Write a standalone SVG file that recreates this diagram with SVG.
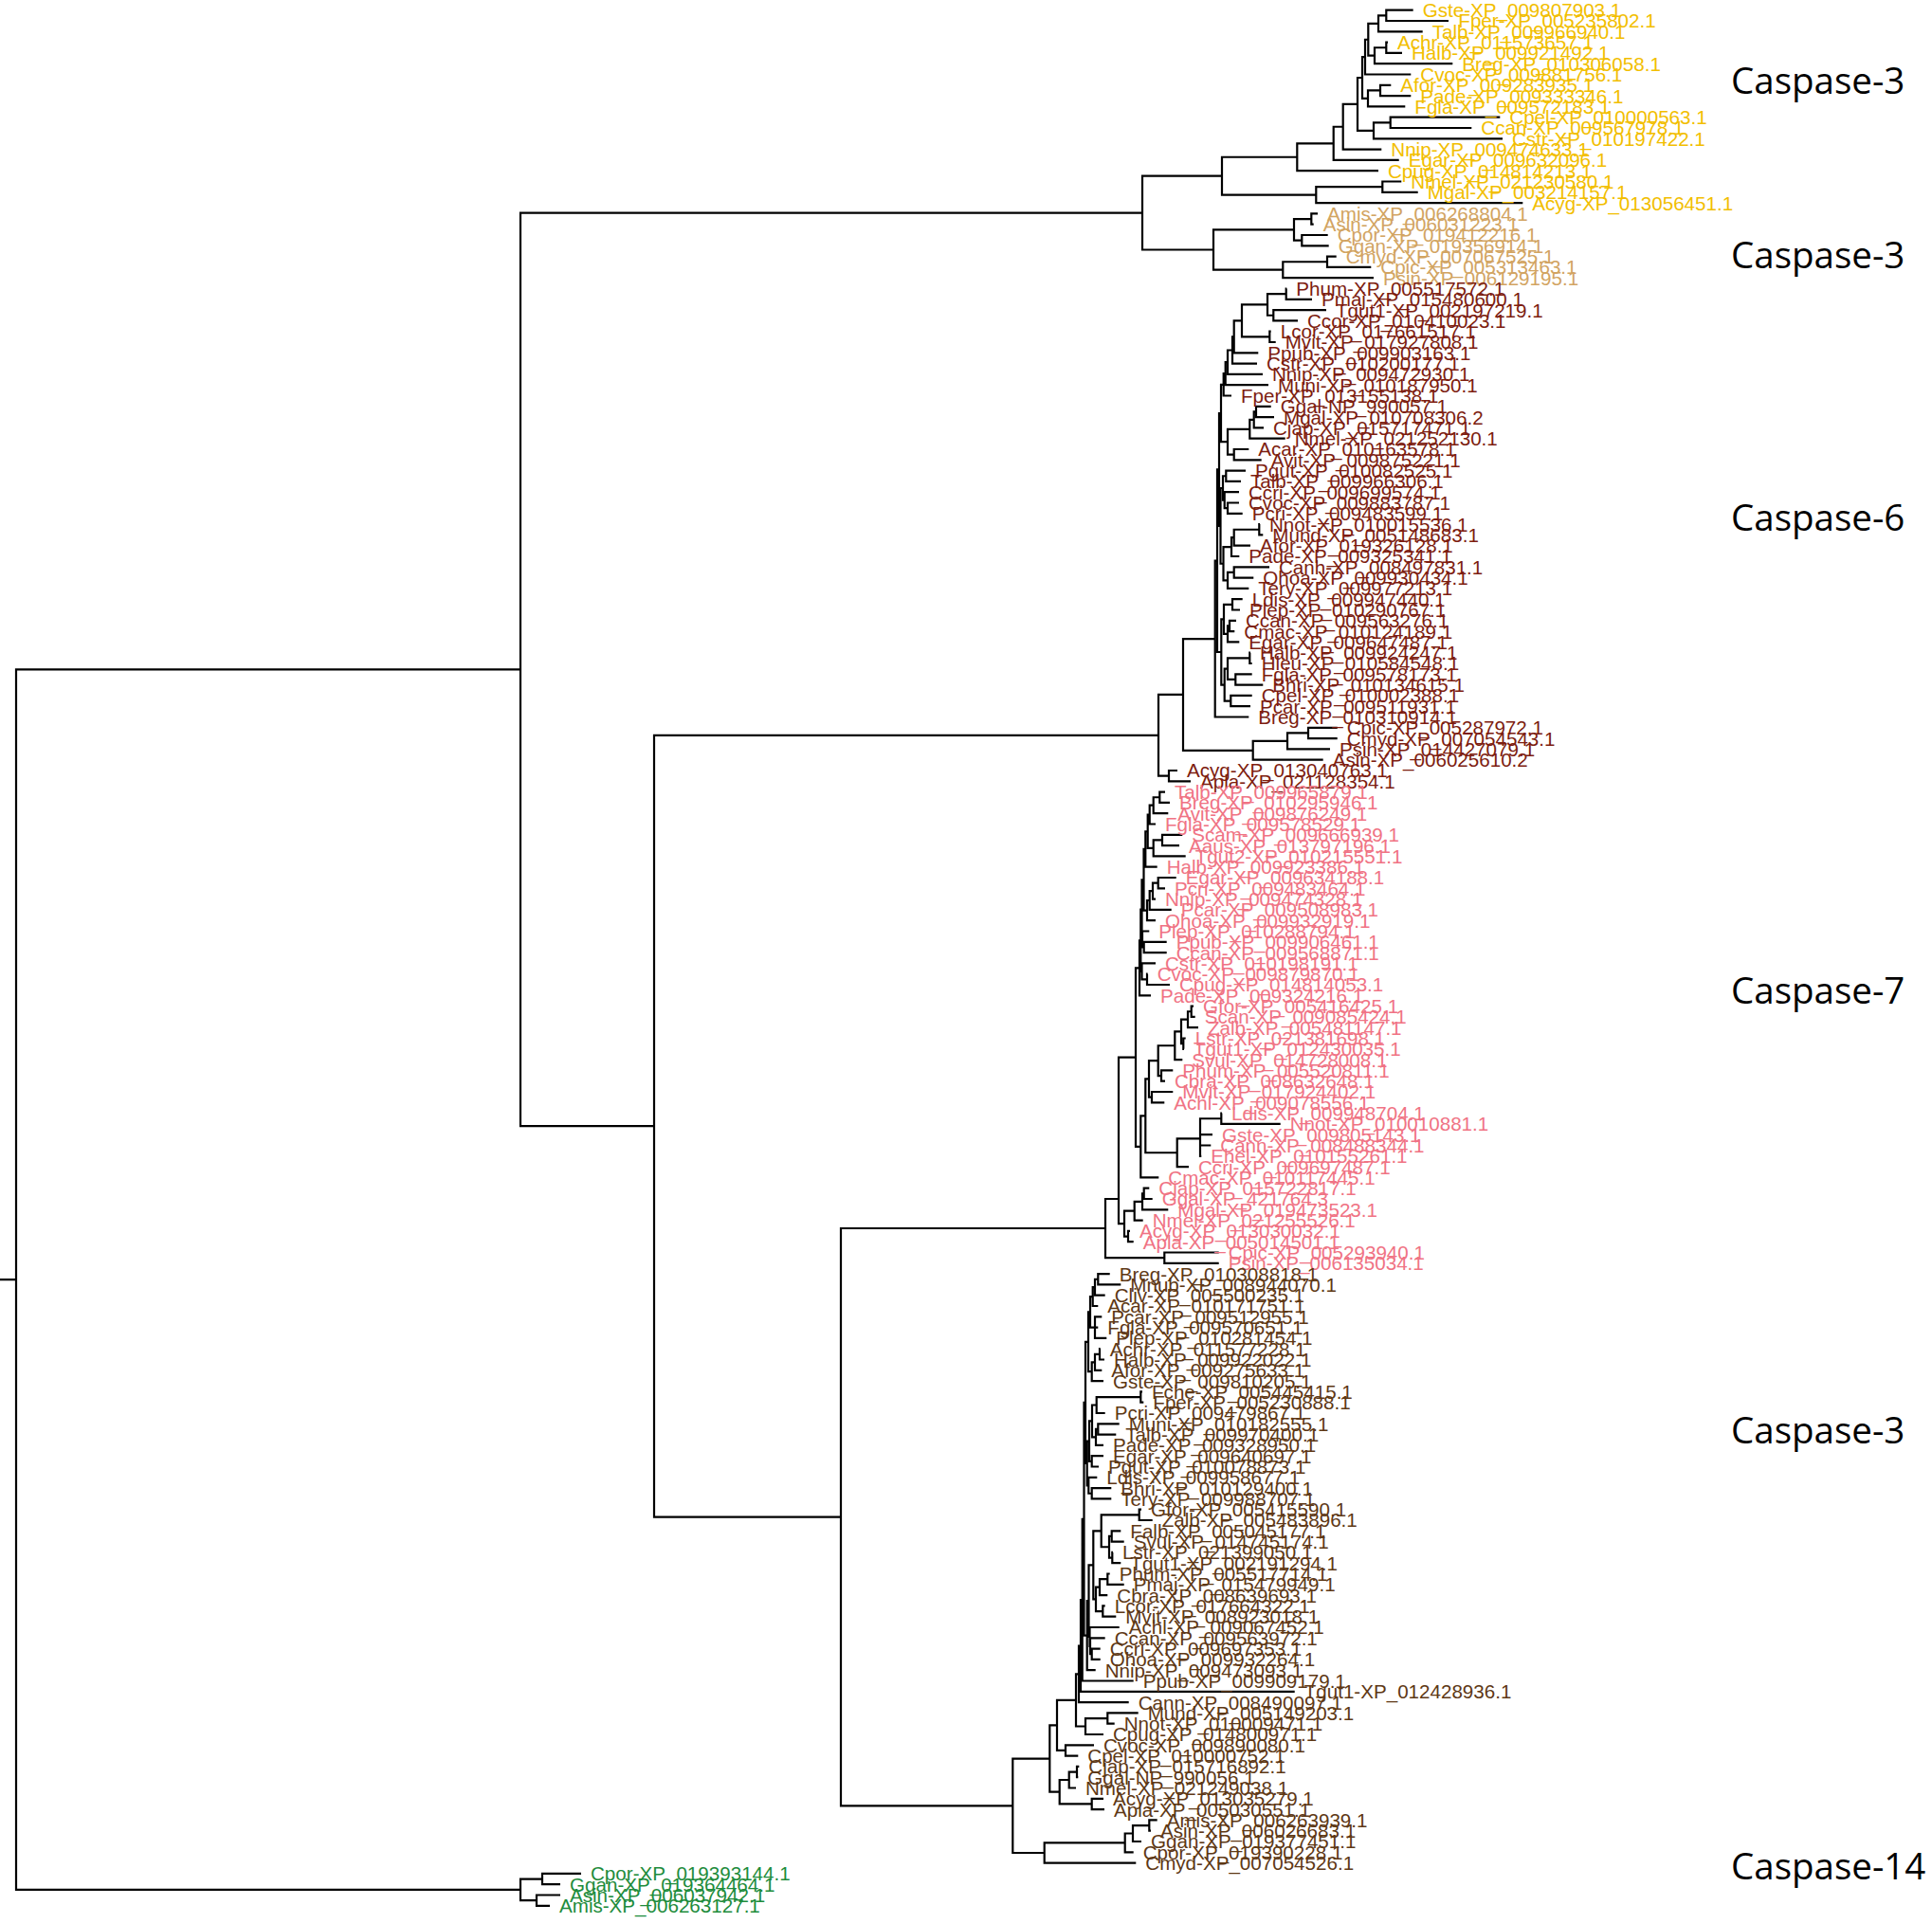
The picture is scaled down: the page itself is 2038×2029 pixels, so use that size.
<svg xmlns="http://www.w3.org/2000/svg" width="2038" height="2029" viewBox="0 0 2038 2029">
<style>
.e{fill:none;stroke:#000;stroke-width:2.2}
text{font-family:"Liberation Sans",Arial,sans-serif;font-size:20.6px}
.y{fill:#F2BE00}.t{fill:#D2A462}.r{fill:#7D1D10}.p{fill:#F07384}.b{fill:#5E3815}.g{fill:#1E8C3C}
.cl{font-family:"Open Sans","Noto Sans",sans-serif;font-size:38.5px;fill:#000}
</style>
<rect width="2038" height="2029" fill="#fff"/>
<g id="edges" class="e">
<path d="M1490.7 10.7H1462.3V22H1528M1462.3 16.35H1454V33.3H1500.7M1464 44.6H1462.3V55.9H1479M1462.3 50.25H1450V67.2H1532.3M1454 24.8H1443.3V58.7H1450M1443.3 41.75H1440V78.5H1488.3M1467.3 89.8H1456V101.1H1488.3M1456 95.45H1443V112.4H1482.3M1440 60.1H1437V103.9H1443M1582.3 123.7H1466.7V135H1552.3M1466.7 129.35H1449V146.3H1585M1437 82H1432V137.8H1449M1432 109.9H1416.7V157.6H1457.3M1416.7 133.75H1406.7V168.9H1475.7M1406.7 151.3H1368.3V180.2H1454M1478.3 191.5H1458.3V202.8H1495.7M1458.3 197.15H1388.3V214.1H1606.3M1368.3 165.75H1289V205.6H1388.3"/>
<path d="M1390 225.4H1383.3V236.7H1385.7M1400.7 248H1373.3V259.3H1401.7M1383.3 231.05H1365V253.65H1373.3M1409.7 270.6H1400V281.9H1446.3M1400 276.25H1353.3V293.2H1449M1365 242.35H1280V284.7H1353.3M1289 185.7H1205V263.5H1280"/>
<path d="M1357.3 304.5H1356.7V315.8H1384M1399 327.1H1343.3V338.4H1369M1356.7 310.15H1337V332.75H1343.3M1340.7 349.7H1339.3V361H1345.7M1337 321.45H1310V355.35H1339.3M1310 338.4H1301.7V372.3H1327.3M1301.7 355.35H1300V383.6H1326M1300 369.5H1295V394.9H1332M1295 382.2H1292.7V406.2H1338M1292.7 394.2H1290.7V417.5H1299M1340.7 428.8H1325V440.1H1344M1325 434.45H1322.7V451.4H1333M1322.7 442.9H1318.3V462.7H1355.7M1317.3 474H1301.7V485.3H1330.7M1318.3 452.8H1295V479.65H1301.7M1290.7 405.85H1288V466.2H1295M1314 496.6H1293.3V507.9H1309M1307 530.5H1295V541.8H1310.7M1307 519.2H1291.7V536.15H1295M1293.3 502.25H1290V527.7H1291.7M1329 553.1H1328.3V564.4H1332.3M1328.3 558.75H1301.7V575.7H1319M1301.7 567.2H1299V587H1307.3M1339 598.3H1301.7V609.6H1322.3M1301.7 603.95H1295V620.9H1317.3M1299 577.1H1290.5V612.4H1295M1290 515H1287.5V594.75H1290.5M1288 436H1286V554.9H1287.5M1310.7 632.2H1300V643.5H1308M1304 654.8H1297V666.1H1302.3M1297 660.45H1295V677.4H1307.3M1300 637.85H1291V668.9H1295M1319 688.7H1318.3V700H1320.7M1320.7 711.3H1303.3V722.6H1332.3M1318.3 694.35H1295V716.95H1303.3M1320.7 733.9H1298.3V745.2H1319M1295 705.65H1291.7V739.55H1298.3M1291 653.4H1288.3V722.6H1291.7M1286 495.45H1284V688H1288.3M1284 591.7H1281.7V756.5H1317.3M1410.7 767.8H1380V779.1H1410.7M1380 773.45H1358V790.4H1403M1358 781.9H1321.7V801.7H1395.7M1281.7 674.1H1248V791.8H1321.7M1242 813H1233V824.3H1256M1248 732.95H1222V818.65H1233"/>
<path d="M1229 835.6H1223.3V846.9H1234M1223.3 841.25H1216.7V858.2H1232.3M1216.7 849.7H1212.7V869.5H1219M1247.3 880.8H1226V892.1H1244M1226 886.45H1216.7V903.4H1250.7M1212.7 859.6H1210.7V894.9H1216.7M1210.7 877.25H1208.3V914.7H1220.7M1240.7 926H1221.7V937.3H1229M1221.7 931.65H1216V948.6H1219M1216 940.1H1212.7V959.9H1235.7M1212.7 950H1210V971.2H1219M1208.3 895.95H1206.5V960.6H1210M1230.7 993.8H1206.7V1005.1H1230.7M1212.3 982.5H1205V999.45H1206.7M1206.5 928.3H1204.5V990.95H1205M1210.7 1027.7H1210V1039H1234M1219 1016.4H1204.5V1033.35H1210M1204.5 959.6H1203.3V1024.9H1204.5M1203.3 992.25H1202V1050.3H1214M1259 1061.6H1256.7V1072.9H1260.7M1256.7 1067.25H1253V1084.2H1264M1250.7 1095.5H1248.3V1106.8H1249M1253 1075.7H1246V1101.15H1248.3M1246 1088.4H1239.3V1118.1H1247.3M1237.3 1129.4H1225V1140.7H1229M1239.3 1103.25H1221.7V1135.05H1225M1237.3 1152H1215V1163.3H1228.3M1221.7 1119.15H1212V1157.65H1215M1289 1174.6H1288.3V1185.9H1350.7M1288.3 1180.25H1266V1219.8H1267.3M1266 1197.2H1279M1266 1208.5H1277.3M1266 1201.4H1241.7V1231.1H1254M1212 1138.4H1208.3V1216.25H1241.7M1208.3 1177.3H1203.3V1242.4H1222.3M1202 1021.3H1198V1209.85H1203.3M1212.3 1253.7H1206.7V1265H1215.7M1206.7 1259.35H1205V1276.3H1232.3M1205 1267.8H1196.7V1287.6H1205.7M1192 1298.9H1190V1310.2H1195.7M1196.7 1277.7H1186V1304.55H1190M1198 1115.6H1180V1291.1H1186M1285.7 1321.5H1228.3V1332.8H1285.7M1180 1265H1166V1327.15H1228.3"/>
<path d="M1170.7 1344.1H1158.3V1355.4H1182.3M1158.3 1349.75H1155V1366.7H1165.7M1155 1358.2H1152.7V1378H1158.3M1162.3 1389.3H1155V1411.9H1167.3M1155 1400.6H1158.3M1152.7 1368.1H1150V1400.6H1155M1160.7 1423.2H1160V1434.5H1165M1160 1428.85H1155V1445.8H1162.3M1155 1437.3H1151.7V1457.1H1164M1150 1384.35H1148V1447.2H1151.7M1205 1468.4H1203.3V1479.7H1206.3M1203.3 1474.05H1156.7V1491H1165.7M1180.7 1502.3H1158.3V1513.6H1177.3M1158.3 1507.95H1156V1524.9H1164M1156.7 1482.5H1152V1516.4H1156M1164 1536.2H1151.7V1547.5H1159M1152 1499.45H1149V1541.85H1151.7M1172.3 1570.1H1151.7V1581.4H1172.3M1157.3 1558.8H1148.3V1575.75H1151.7M1149 1520.65H1146.7V1567.3H1148.3M1148 1415.8H1145V1544H1146.7M1204 1592.7H1201.7V1604H1215.7M1182.3 1615.3H1172.7V1626.6H1185.7M1174 1637.9H1173.3V1649.2H1182.3M1172.7 1620.95H1170V1643.55H1173.3M1201.7 1598.35H1161.7V1632.25H1170M1170.7 1660.5H1168.3V1671.8H1185.7M1168.3 1666.15H1160V1683.1H1168.3M1165.7 1694.4H1163.3V1705.7H1177.3M1160 1674.6H1156V1700.05H1163.3M1161.7 1615.3H1153.3V1687.3H1156M1160.7 1739.6H1151.7V1750.9H1160.7M1165.7 1728.3H1150V1745.25H1151.7M1180.7 1717H1149.5V1736.8H1150M1153.3 1651.3H1148.5V1726.9H1149.5M1148.5 1689.1H1146.7V1762.2H1155.7M1145 1479.9H1143.5V1725.65H1146.7M1143.5 1602.8H1141.7V1773.5H1195.7M1141.7 1688.15H1140V1784.8H1365.7M1140 1736.5H1138V1796.1H1190.7M1200.7 1807.4H1168.3V1818.7H1175.7M1168.3 1813.05H1145V1830H1164M1138 1766.3H1135V1821.5H1145M1154 1841.3H1124V1852.6H1137.3M1135 1793.9H1115V1846.95H1124M1138.3 1863.9H1136V1875.2H1137.3M1136 1869.55H1127.7V1886.5H1135M1164 1897.8H1151.7V1909.1H1165M1127.7 1878H1117.7V1903.45H1151.7M1115 1820.4H1107.3V1890.7H1117.7M1220.7 1920.4H1212.3V1931.7H1214M1212.3 1926.05H1195V1943H1204M1195 1934.5H1186.7V1954.3H1195.7M1186.7 1944.4H1101.7V1965.6H1198.3M1107.3 1855.55H1068.3V1955H1101.7"/>
<path d="M1166 1296H887V1905.3H1068.3M1222 775.8H690V1600.6H887M1205 224.6H549V1188.2H690M613 1976.9H572V1988.2H591M591 1999.5H566V2010.8H580M572 1982.55H549V2005.15H566M549 706.4H17V1993.85H549M0 1350.1H17"/>
</g>
<g id="caspase3-a">
<g id="n1"><text class="y" x="1500.7" y="18.1">Gste-XP_009807903.1</text></g>
<g id="n2"><text class="y" x="1538.3" y="29.4">Fper-XP_005235802.1</text></g>
<g id="n3"><text class="y" x="1510.7" y="40.7">Talb-XP_009966940.1</text></g>
<g id="n4"><text class="y" x="1474" y="52">Achr-XP_011573657.1</text></g>
<g id="n5"><text class="y" x="1489" y="63.3">Halb-XP_009921492.1</text></g>
<g id="n6"><text class="y" x="1542.3" y="74.6">Breg-XP_010306058.1</text></g>
<g id="n7"><text class="y" x="1498.3" y="85.9">Cvoc-XP_009881756.1</text></g>
<g id="n8"><text class="y" x="1477.3" y="97.2">Afor-XP_009283935.1</text></g>
<g id="n9"><text class="y" x="1498.3" y="108.5">Pade-XP_009333346.1</text></g>
<g id="n10"><text class="y" x="1492.3" y="119.8">Fgla-XP_009572183.1</text></g>
<g id="n11"><text class="y" x="1592.3" y="131.1">Cpel-XP_010000563.1</text></g>
<g id="n12"><text class="y" x="1562.3" y="142.4">Ccan-XP_009567978.1</text></g>
<g id="n13"><text class="y" x="1595" y="153.7">Cstr-XP_010197422.1</text></g>
<g id="n14"><text class="y" x="1467.3" y="165">Nnip-XP_009474633.1</text></g>
<g id="n15"><text class="y" x="1485.7" y="176.3">Egar-XP_009632096.1</text></g>
<g id="n16"><text class="y" x="1464" y="187.6">Cpug-XP_014814213.1</text></g>
<g id="n17"><text class="y" x="1488.3" y="198.9">Nmel-XP_021230580.1</text></g>
<g id="n18"><text class="y" x="1505.7" y="210.2">Mgal-XP_003214157.1</text></g>
<g id="n19"><text class="y" x="1616.3" y="221.5">Acyg-XP_013056451.1</text></g>
</g>
<g id="caspase3-b">
<g id="n20"><text class="t" x="1400" y="232.8">Amis-XP_006268804.1</text></g>
<g id="n21"><text class="t" x="1395.7" y="244.1">Asin-XP_006031223.1</text></g>
<g id="n22"><text class="t" x="1410.7" y="255.4">Cpor-XP_019412216.1</text></g>
<g id="n23"><text class="t" x="1411.7" y="266.7">Ggan-XP_019356914.1</text></g>
<g id="n24"><text class="t" x="1419.7" y="278">Cmyd-XP_007067525.1</text></g>
<g id="n25"><text class="t" x="1456.3" y="289.3">Cpic-XP_005313463.1</text></g>
<g id="n26"><text class="t" x="1459" y="300.6">Psin-XP_006129195.1</text></g>
</g>
<g id="caspase6">
<g id="n27"><text class="r" x="1367.3" y="311.9">Phum-XP_005517572.1</text></g>
<g id="n28"><text class="r" x="1394" y="323.2">Pmaj-XP_015480600.1</text></g>
<g id="n29"><text class="r" x="1409" y="334.5">Tgut1-XP_002197219.1</text></g>
<g id="n30"><text class="r" x="1379" y="345.8">Ccor-XP_010410023.1</text></g>
<g id="n31"><text class="r" x="1350.7" y="357.1">Lcor-XP_017661517.1</text></g>
<g id="n32"><text class="r" x="1355.7" y="368.4">Mvit-XP_017927808.1</text></g>
<g id="n33"><text class="r" x="1337.3" y="379.7">Ppub-XP_009903163.1</text></g>
<g id="n34"><text class="r" x="1336" y="391">Cstr-XP_010200177.1</text></g>
<g id="n35"><text class="r" x="1342" y="402.3">Nnip-XP_009472930.1</text></g>
<g id="n36"><text class="r" x="1348" y="413.6">Muni-XP_010187950.1</text></g>
<g id="n37"><text class="r" x="1309" y="424.9">Fper-XP_013155138.1</text></g>
<g id="n38"><text class="r" x="1350.7" y="436.2">Ggal-NP_990057.1</text></g>
<g id="n39"><text class="r" x="1354" y="447.5">Mgal-XP_010708306.2</text></g>
<g id="n40"><text class="r" x="1343" y="458.8">Cjap-XP_015717471.1</text></g>
<g id="n41"><text class="r" x="1365.7" y="470.1">Nmel-XP_021252130.1</text></g>
<g id="n42"><text class="r" x="1327.3" y="481.4">Acar-XP_010163578.1</text></g>
<g id="n43"><text class="r" x="1340.7" y="492.7">Avit-XP_009875221.1</text></g>
<g id="n44"><text class="r" x="1324" y="504">Pgut-XP_010082525.1</text></g>
<g id="n45"><text class="r" x="1319" y="515.3">Talb-XP_009966306.1</text></g>
<g id="n46"><text class="r" x="1317" y="526.6">Ccri-XP_009699574.1</text></g>
<g id="n47"><text class="r" x="1317" y="537.9">Cvoc-XP_009883787.1</text></g>
<g id="n48"><text class="r" x="1320.7" y="549.2">Pcri-XP_009483599.1</text></g>
<g id="n49"><text class="r" x="1339" y="560.5">Nnot-XP_010015536.1</text></g>
<g id="n50"><text class="r" x="1342.3" y="571.8">Mund-XP_005148683.1</text></g>
<g id="n51"><text class="r" x="1329" y="583.1">Afor-XP_019326128.1</text></g>
<g id="n52"><text class="r" x="1317.3" y="594.4">Pade-XP_009325341.1</text></g>
<g id="n53"><text class="r" x="1349" y="605.7">Canh-XP_008497831.1</text></g>
<g id="n54"><text class="r" x="1332.3" y="617">Ohoa-XP_009930434.1</text></g>
<g id="n55"><text class="r" x="1327.3" y="628.3">Tery-XP_009977213.1</text></g>
<g id="n56"><text class="r" x="1320.7" y="639.6">Ldis-XP_009947440.1</text></g>
<g id="n57"><text class="r" x="1318" y="650.9">Plep-XP_010290767.1</text></g>
<g id="n58"><text class="r" x="1314" y="662.2">Ccan-XP_009563276.1</text></g>
<g id="n59"><text class="r" x="1312.3" y="673.5">Cmac-XP_010124189.1</text></g>
<g id="n60"><text class="r" x="1317.3" y="684.8">Egar-XP_009647487.1</text></g>
<g id="n61"><text class="r" x="1329" y="696.1">Halb-XP_009924247.1</text></g>
<g id="n62"><text class="r" x="1330.7" y="707.4">Hleu-XP_010584548.1</text></g>
<g id="n63"><text class="r" x="1330.7" y="718.7">Fgla-XP_009578173.1</text></g>
<g id="n64"><text class="r" x="1342.3" y="730">Bhri-XP_010134615.1</text></g>
<g id="n65"><text class="r" x="1330.7" y="741.3">Cpel-XP_010002388.1</text></g>
<g id="n66"><text class="r" x="1329" y="752.6">Pcar-XP_009511931.1</text></g>
<g id="n67"><text class="r" x="1327.3" y="763.9">Breg-XP_010310914.1</text></g>
<g id="n68"><text class="r" x="1420.7" y="775.2">Cpic-XP_005287972.1</text></g>
<g id="n69"><text class="r" x="1420.7" y="786.5">Cmyd-XP_007054543.1</text></g>
<g id="n70"><text class="r" x="1413" y="797.8">Psin-XP_014427079.1</text></g>
<g id="n71"><text class="r" x="1405.7" y="809.1">Asin-XP_006025610.2</text></g>
<g id="n72"><text class="r" x="1252" y="820.4">Acyg-XP_013040763.1</text></g>
<g id="n73"><text class="r" x="1266" y="831.7">Apla-XP_021128354.1</text></g>
</g>
<g id="caspase7">
<g id="n74"><text class="p" x="1239" y="843">Talb-XP_009965879.1</text></g>
<g id="n75"><text class="p" x="1244" y="854.3">Breg-XP_010295946.1</text></g>
<g id="n76"><text class="p" x="1242.3" y="865.6">Avit-XP_009876249.1</text></g>
<g id="n77"><text class="p" x="1229" y="876.9">Fgla-XP_009578529.1</text></g>
<g id="n78"><text class="p" x="1257.3" y="888.2">Scam-XP_009666939.1</text></g>
<g id="n79"><text class="p" x="1254" y="899.5">Aaus-XP_013797196.1</text></g>
<g id="n80"><text class="p" x="1260.7" y="910.8">Tgut2-XP_010215551.1</text></g>
<g id="n81"><text class="p" x="1230.7" y="922.1">Halb-XP_009923386.1</text></g>
<g id="n82"><text class="p" x="1250.7" y="933.4">Egar-XP_009634188.1</text></g>
<g id="n83"><text class="p" x="1239" y="944.7">Pcri-XP_009483464.1</text></g>
<g id="n84"><text class="p" x="1229" y="956">Nnip-XP_009474328.1</text></g>
<g id="n85"><text class="p" x="1245.7" y="967.3">Pcar-XP_009508983.1</text></g>
<g id="n86"><text class="p" x="1229" y="978.6">Ohoa-XP_009932919.1</text></g>
<g id="n87"><text class="p" x="1222.3" y="989.9">Plep-XP_010288794.1</text></g>
<g id="n88"><text class="p" x="1240.7" y="1001.2">Ppub-XP_009906461.1</text></g>
<g id="n89"><text class="p" x="1240.7" y="1012.5">Ccan-XP_009568871.1</text></g>
<g id="n90"><text class="p" x="1229" y="1023.8">Cstr-XP_010198191.1</text></g>
<g id="n91"><text class="p" x="1220.7" y="1035.1">Cvoc-XP_009879870.1</text></g>
<g id="n92"><text class="p" x="1244" y="1046.4">Cpug-XP_014814053.1</text></g>
<g id="n93"><text class="p" x="1224" y="1057.7">Pade-XP_009324216.1</text></g>
<g id="n94"><text class="p" x="1269" y="1069">Gfor-XP_005416425.1</text></g>
<g id="n95"><text class="p" x="1270.7" y="1080.3">Scan-XP_009085424.1</text></g>
<g id="n96"><text class="p" x="1274" y="1091.6">Zalb-XP_005481147.1</text></g>
<g id="n97"><text class="p" x="1260.7" y="1102.9">Lstr-XP_021381698.1</text></g>
<g id="n98"><text class="p" x="1259" y="1114.2">Tgut1-XP_012430035.1</text></g>
<g id="n99"><text class="p" x="1257.3" y="1125.5">Svul-XP_014728008.1</text></g>
<g id="n100"><text class="p" x="1247.3" y="1136.8">Phum-XP_005520811.1</text></g>
<g id="n101"><text class="p" x="1239" y="1148.1">Cbra-XP_008632648.1</text></g>
<g id="n102"><text class="p" x="1247.3" y="1159.4">Mvit-XP_017924402.1</text></g>
<g id="n103"><text class="p" x="1238.3" y="1170.7">Achl-XP_009078556.1</text></g>
<g id="n104"><text class="p" x="1299" y="1182">Ldis-XP_009948704.1</text></g>
<g id="n105"><text class="p" x="1360.7" y="1193.3">Nnot-XP_010010881.1</text></g>
<g id="n106"><text class="p" x="1289" y="1204.6">Gste-XP_009805143.1</text></g>
<g id="n107"><text class="p" x="1287.3" y="1215.9">Cann-XP_008488344.1</text></g>
<g id="n108"><text class="p" x="1277.3" y="1227.2">Ehel-XP_010155261.1</text></g>
<g id="n109"><text class="p" x="1264" y="1238.5">Ccri-XP_009697487.1</text></g>
<g id="n110"><text class="p" x="1232.3" y="1249.8">Cmac-XP_010117445.1</text></g>
<g id="n111"><text class="p" x="1222.3" y="1261.1">Cjap-XP_015722817.1</text></g>
<g id="n112"><text class="p" x="1225.7" y="1272.4">Ggal-XP_421764.3</text></g>
<g id="n113"><text class="p" x="1242.3" y="1283.7">Mgal-XP_019473523.1</text></g>
<g id="n114"><text class="p" x="1215.7" y="1295">Nmel-XP_021255526.1</text></g>
<g id="n115"><text class="p" x="1202" y="1306.3">Acyg-XP_013030032.1</text></g>
<g id="n116"><text class="p" x="1205.7" y="1317.6">Apla-XP_005014501.1</text></g>
<g id="n117"><text class="p" x="1295.7" y="1328.9">Cpic-XP_005293940.1</text></g>
<g id="n118"><text class="p" x="1295.7" y="1340.2">Psin-XP_006135034.1</text></g>
</g>
<g id="caspase3-c">
<g id="n119"><text class="b" x="1180.7" y="1351.5">Breg-XP_010308818.1</text></g>
<g id="n120"><text class="b" x="1192.3" y="1362.8">Mnub-XP_008944070.1</text></g>
<g id="n121"><text class="b" x="1175.7" y="1374.1">Cliv-XP_005500235.1</text></g>
<g id="n122"><text class="b" x="1168.3" y="1385.4">Acar-XP_010171751.1</text></g>
<g id="n123"><text class="b" x="1172.3" y="1396.7">Pcar-XP_009512955.1</text></g>
<g id="n124"><text class="b" x="1168.3" y="1408">Fgla-XP_009570651.1</text></g>
<g id="n125"><text class="b" x="1177.3" y="1419.3">Plep-XP_010281454.1</text></g>
<g id="n126"><text class="b" x="1170.7" y="1430.6">Achr-XP_011577228.1</text></g>
<g id="n127"><text class="b" x="1175" y="1441.9">Halb-XP_009922022.1</text></g>
<g id="n128"><text class="b" x="1172.3" y="1453.2">Afor-XP_009275633.1</text></g>
<g id="n129"><text class="b" x="1174" y="1464.5">Gste-XP_009810205.1</text></g>
<g id="n130"><text class="b" x="1215" y="1475.8">Fche-XP_005445415.1</text></g>
<g id="n131"><text class="b" x="1216.3" y="1487.1">Fper-XP_005230888.1</text></g>
<g id="n132"><text class="b" x="1175.7" y="1498.4">Pcri-XP_009479867.1</text></g>
<g id="n133"><text class="b" x="1190.7" y="1509.7">Muni-XP_010182555.1</text></g>
<g id="n134"><text class="b" x="1187.3" y="1521">Talb-XP_009970400.1</text></g>
<g id="n135"><text class="b" x="1174" y="1532.3">Pade-XP_009328950.1</text></g>
<g id="n136"><text class="b" x="1174" y="1543.6">Egar-XP_009640697.1</text></g>
<g id="n137"><text class="b" x="1169" y="1554.9">Pgut-XP_010078873.1</text></g>
<g id="n138"><text class="b" x="1167.3" y="1566.2">Ldis-XP_009958677.1</text></g>
<g id="n139"><text class="b" x="1182.3" y="1577.5">Bhri-XP_010129400.1</text></g>
<g id="n140"><text class="b" x="1182.3" y="1588.8">Tery-XP_009988707.1</text></g>
<g id="n141"><text class="b" x="1214" y="1600.1">Gfor-XP_005415590.1</text></g>
<g id="n142"><text class="b" x="1225.7" y="1611.4">Zalb-XP_005483896.1</text></g>
<g id="n143"><text class="b" x="1192.3" y="1622.7">Falb-XP_005045177.1</text></g>
<g id="n144"><text class="b" x="1195.7" y="1634">Svul-XP_014745174.1</text></g>
<g id="n145"><text class="b" x="1184" y="1645.3">Lstr-XP_021399050.1</text></g>
<g id="n146"><text class="b" x="1192.3" y="1656.6">Tgut1-XP_002191294.1</text></g>
<g id="n147"><text class="b" x="1180.7" y="1667.9">Phum-XP_005517714.1</text></g>
<g id="n148"><text class="b" x="1195.7" y="1679.2">Pmaj-XP_015479949.1</text></g>
<g id="n149"><text class="b" x="1178.3" y="1690.5">Cbra-XP_008639693.1</text></g>
<g id="n150"><text class="b" x="1175.7" y="1701.8">Lcor-XP_017664322.1</text></g>
<g id="n151"><text class="b" x="1187.3" y="1713.1">Mvit-XP_008923018.1</text></g>
<g id="n152"><text class="b" x="1190.7" y="1724.4">Achl-XP_009067452.1</text></g>
<g id="n153"><text class="b" x="1175.7" y="1735.7">Ccan-XP_009563972.1</text></g>
<g id="n154"><text class="b" x="1170.7" y="1747">Ccri-XP_009697353.1</text></g>
<g id="n155"><text class="b" x="1170.7" y="1758.3">Ohoa-XP_009932264.1</text></g>
<g id="n156"><text class="b" x="1165.7" y="1769.6">Nnip-XP_009473093.1</text></g>
<g id="n157"><text class="b" x="1205.7" y="1780.9">Ppub-XP_009909179.1</text></g>
<g id="n158"><text class="b" x="1375.7" y="1792.2">Tgut1-XP_012428936.1</text></g>
<g id="n159"><text class="b" x="1200.7" y="1803.5">Cann-XP_008490097.1</text></g>
<g id="n160"><text class="b" x="1210.7" y="1814.8">Mund-XP_005149203.1</text></g>
<g id="n161"><text class="b" x="1185.7" y="1826.1">Nnot-XP_010009471.1</text></g>
<g id="n162"><text class="b" x="1174" y="1837.4">Cpug-XP_014800971.1</text></g>
<g id="n163"><text class="b" x="1164" y="1848.7">Cvoc-XP_009890080.1</text></g>
<g id="n164"><text class="b" x="1147.3" y="1860">Cpel-XP_010000752.1</text></g>
<g id="n165"><text class="b" x="1148.3" y="1871.3">Cjap-XP_015716892.1</text></g>
<g id="n166"><text class="b" x="1147.3" y="1882.6">Ggal-NP_990056.1</text></g>
<g id="n167"><text class="b" x="1145" y="1893.9">Nmel-XP_021249038.1</text></g>
<g id="n168"><text class="b" x="1174" y="1905.2">Acyg-XP_013035279.1</text></g>
<g id="n169"><text class="b" x="1175" y="1916.5">Apla-XP_005030551.1</text></g>
<g id="n170"><text class="b" x="1230.7" y="1927.8">Amis-XP_006263939.1</text></g>
<g id="n171"><text class="b" x="1224" y="1939.1">Asin-XP_006026683.1</text></g>
<g id="n172"><text class="b" x="1214" y="1950.4">Ggan-XP_019377451.1</text></g>
<g id="n173"><text class="b" x="1205.7" y="1961.7">Cpor-XP_019390228.1</text></g>
<g id="n174"><text class="b" x="1208.3" y="1973">Cmyd-XP_007054526.1</text></g>
</g>
<g id="caspase14">
<g id="n175"><text class="g" x="623" y="1984.3">Cpor-XP_019393144.1</text></g>
<g id="n176"><text class="g" x="601" y="1995.6">Ggan-XP_019364464.1</text></g>
<g id="n177"><text class="g" x="601" y="2006.9">Asin-XP_006037942.1</text></g>
<g id="n178"><text class="g" x="590" y="2018.2">Amis-XP_006263127.1</text></g>
</g>
<g id="labels">
<g id="lab1"><text class="cl" x="1826" y="99">Caspase-3</text></g>
<g id="lab2"><text class="cl" x="1826" y="283">Caspase-3</text></g>
<g id="lab3"><text class="cl" x="1826" y="560">Caspase-6</text></g>
<g id="lab4"><text class="cl" x="1826" y="1059">Caspase-7</text></g>
<g id="lab5"><text class="cl" x="1826" y="1523">Caspase-3</text></g>
<g id="lab6"><text class="cl" x="1826" y="1983">Caspase-14</text></g>
</g>
</svg>
